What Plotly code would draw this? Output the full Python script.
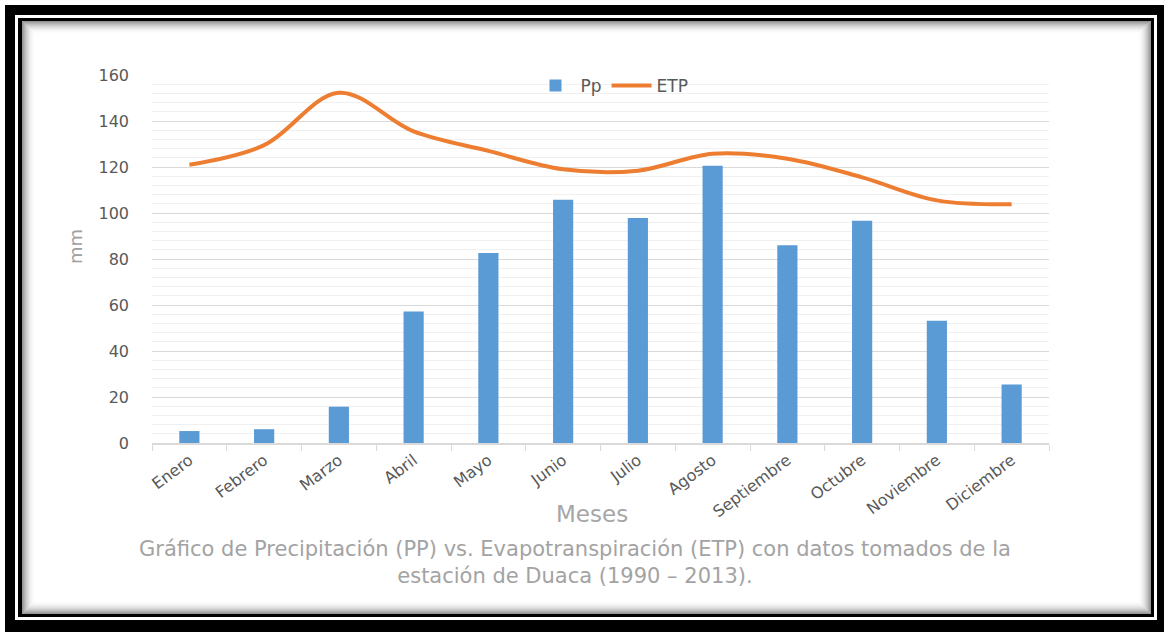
import plotly.graph_objects as go

# Monthly data, Duaca station (1990 - 2013)
meses = ["Enero", "Febrero", "Marzo", "Abril", "Mayo", "Junio", "Julio",
         "Agosto", "Septiembre", "Octubre", "Noviembre", "Diciembre"]
pp = [5.2, 6.0, 15.8, 57.2, 82.6, 105.8, 97.8, 120.5, 86.0, 96.6, 53.2, 25.4]
etp = [121.0, 129.5, 152.3, 135.5, 127.0, 119.0, 118.4, 125.8, 123.6, 115.5, 105.5, 103.8]

W, H = 1164, 632
ML, MR, MT, MB = 152, 115, 75, 189
PW, PH = W - ML - MR, H - MT - MB

TICK_FONT = "DejaVu Sans"
GREY_TXT = "#595959"


def px(x):
    return (x - ML) / PW


def py(y):
    return (H - MB - y) / PH


fig = go.Figure()
fig.add_trace(go.Bar(x=meses, y=pp, name="Pp", marker_color="#5b9bd5",
                     marker_line_width=0, width=0.27))
fig.add_trace(go.Scatter(x=meses, y=etp, name="ETP", mode="lines",
                         line=dict(color="#ed7d31", width=4, shape="spline", smoothing=1.0)))

# picture frame: black border, thin white gap, inner black rule, soft inner shadow
shapes = []


def rect(x0, y0, x1, y1, fill, line_color=None, lw=0):
    return dict(type="rect", xref="paper", yref="paper", layer="below",
                x0=px(x0), x1=px(x1), y0=py(y1), y1=py(y0),
                fillcolor=fill, line=dict(width=lw, color=line_color or fill))


shapes.append(rect(5, 5, W + 2, H + 2, "black"))
shapes.append(rect(15, 15, 1157, 620, "white"))
shapes.append(rect(18, 18, 1154, 617, "black"))
shapes.append(rect(22, 21, 1151, 614, "white"))
N = 13
for i in range(N):
    d = i + 0.5
    a = 0.42 * (1 - i / N) ** 2
    shapes.append(dict(type="rect", xref="paper", yref="paper", layer="below",
                       x0=px(22 + d), x1=px(1151 - d), y0=py(614 - d), y1=py(21 + d),
                       fillcolor="rgba(0,0,0,0)",
                       line=dict(width=1, color=f"rgba(0,0,0,{a:.3f})")))

caption = ("Gráfico de Precipitación (PP) vs. Evapotranspiración (ETP) con datos tomados de la"
           "<br>estación de Duaca (1990 – 2013).")

annotations = [
    dict(text="mm", xref="paper", yref="paper", x=px(75), y=py(247), showarrow=False,
         textangle=-90, font=dict(family=TICK_FONT, size=18, color="#a0a0a0"),
         xanchor="center", yanchor="middle"),
    dict(text="Meses", xref="paper", yref="paper", x=px(592), y=py(514), showarrow=False,
         font=dict(family=TICK_FONT, size=23, color="#a6a6a6"),
         xanchor="center", yanchor="middle"),
    dict(text=caption, xref="paper", yref="paper", x=px(575), y=py(562), showarrow=False,
         align="center", font=dict(family=TICK_FONT, size=21, color="#a3a3a3"),
         xanchor="center", yanchor="middle"),
]

fig.update_layout(
    width=W, height=H,
    margin=dict(l=ML, r=MR, t=MT, b=MB, pad=0),
    paper_bgcolor="white", plot_bgcolor="rgba(0,0,0,0)",
    shapes=shapes, annotations=annotations,
    bargap=0.73,
    showlegend=True,
    legend=dict(orientation="h", x=px(612), y=py(86), xanchor="center", yanchor="middle",
                font=dict(family=TICK_FONT, size=17, color=GREY_TXT),
                bgcolor="rgba(0,0,0,0)", itemwidth=40, traceorder="normal"),
    xaxis=dict(type="category", showgrid=False, showline=True, linecolor="#d9d9d9",
               linewidth=1.5, ticks="outside", tickson="boundaries", ticklen=6,
               tickcolor="#d9d9d9", tickangle=-37,
               tickfont=dict(family=TICK_FONT, size=16, color=GREY_TXT)),
    yaxis=dict(range=[0, 160], dtick=20, showgrid=True, gridcolor="#d9d9d9", gridwidth=1.2,
               zeroline=False, showline=False, ticks="", ticklabelstandoff=22,
               tickfont=dict(family=TICK_FONT, size=16, color=GREY_TXT),
               minor=dict(dtick=4, showgrid=True, gridcolor="#f0f0f0", gridwidth=1)),
)

fig.write_html("out.html")
